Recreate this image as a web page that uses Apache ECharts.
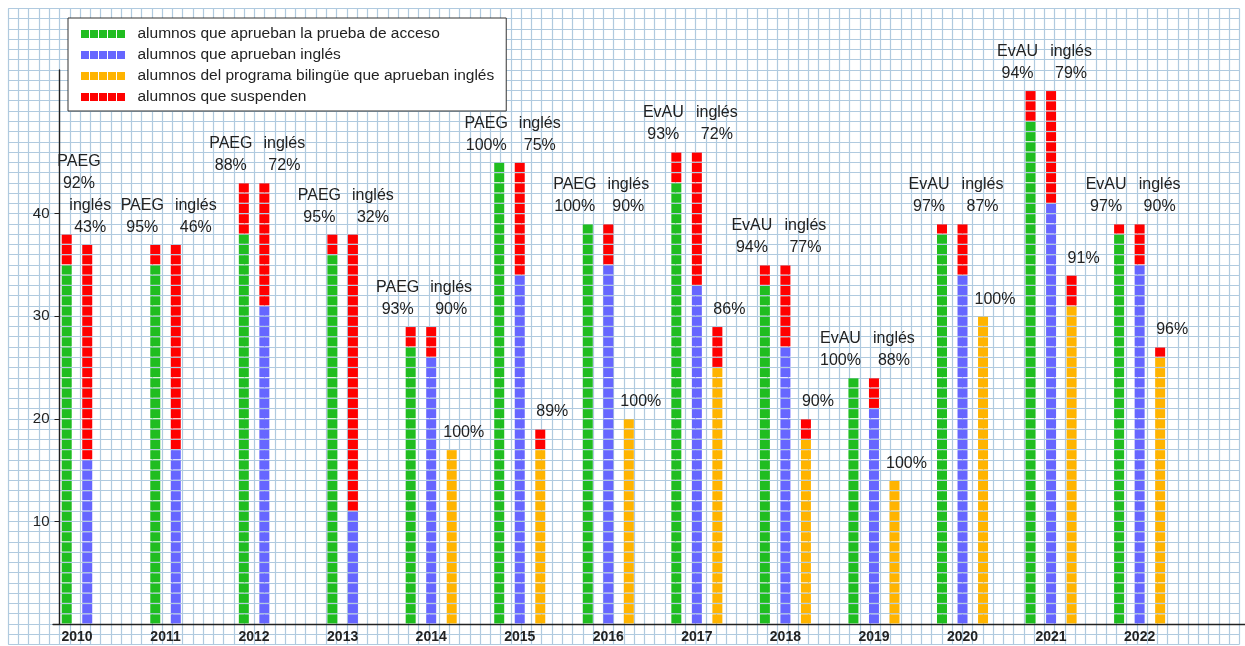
<!DOCTYPE html>
<html>
<head>
<meta charset="utf-8">
<title>PAEG / EvAU</title>
<script src="https://cdn.jsdelivr.net/npm/echarts@6.0.0/dist/echarts.min.js"></script>
<style>
    html, body { margin: 0; padding: 0; background: #fff; }
    #main { width: 1245px; height: 646px; }
</style>
</head>
<body>
<div id="main"></div>
<script>
    // datos: alumnos por año
    var years = ['2010', '2011', '2012', '2013', '2014', '2015', '2016', '2017', '2018', '2019', '2020', '2021', '2022'];
    var examName = ['PAEG', 'PAEG', 'PAEG', 'PAEG', 'PAEG', 'PAEG', 'PAEG', 'EvAU', 'EvAU', 'EvAU', 'EvAU', 'EvAU', 'EvAU'];
    var accessPass = [35, 35, 38, 36, 27, 45, 39, 43, 33, 24, 38, 49, 38];
    var accessFail = [3, 2, 5, 2, 2, 0, 0, 3, 2, 0, 1, 3, 1];
    var accessPct = [92, 95, 88, 95, 93, 100, 100, 93, 94, 100, 97, 94, 97];
    var englishPass = [16, 17, 31, 11, 26, 34, 35, 33, 27, 21, 34, 41, 35];
    var englishFail = [21, 20, 12, 27, 3, 11, 4, 13, 8, 3, 5, 11, 4];
    var englishPct = [43, 46, 72, 32, 90, 75, 90, 72, 77, 88, 87, 79, 90];
    var bilingualPass = [null, null, null, null, 17, 17, 20, 25, 18, 14, 30, 31, 26];
    var bilingualFail = [null, null, null, null, 0, 2, 0, 4, 2, 0, 0, 3, 1];
    var bilingualPct = [null, null, null, null, 100, 89, 100, 86, 90, 100, 100, 91, 96];
    var yTicks = [10, 20, 30, 40];

    var names = [
        'alumnos que aprueban la prueba de acceso',
        'alumnos que aprueban inglés',
        'alumnos del programa bilingüe que aprueban inglés',
        'alumnos que suspenden'
    ];

    var CELL = 10.26;            // lado de un cuadrito (1 alumno)
    var FONT = '"Liberation Sans", Arial, sans-serif';
    var gridColor = '#b0cadf';
    var stackedLabelYear = '2010';   // primer grupo: etiquetas una encima de otra

    function labelFor(slot, i, cx, yTop, n, api) {
        var text, x, yb = yTop - 6;
        if (slot === 0) {
            text = examName[i] + '\n' + accessPct[i] + '%';
            x = cx - 13;
            if (years[i] === stackedLabelYear) {
                var blueTop = api.coord([i, englishPass[i] + englishFail[i]])[1];
                x = cx + CELL + 2;
                yb = blueTop - 6 - 44;
            }
        } else if (slot === 1) {
            text = 'inglés\n' + englishPct[i] + '%';
            x = years[i] === stackedLabelYear ? cx + 3 : cx + 20;
        } else {
            text = bilingualPct[i] + '%';
            x = cx + 12;
        }
        return {
            type: 'text',
            style: {
                text: text, x: x, y: yb,
                align: 'center', verticalAlign: 'bottom',
                fontSize: 16, fontFamily: FONT, lineHeight: 22,
                fill: '#222'
            }
        };
    }

    function makeBars(name, color, slot, pass, fail, isTop) {
        var data = [];
        for (var i = 0; i < years.length; i++) {
            if (pass[i] == null) continue;
            if (isTop) data.push([i, pass[i], pass[i] + fail[i]]);
            else data.push([i, 0, pass[i]]);
        }
        return {
            type: 'custom',
            name: name,
            xAxisIndex: 2,
            yAxisIndex: 2,
            itemStyle: { color: color },
            data: data,
            z: 3,
            renderItem: function (params, api) {
                var i = api.value(0), from = api.value(1), to = api.value(2);
                var n = bilingualPass[i] == null ? 2 : 3;
                var cx = api.coord([i, 0])[0] + (slot - (n - 1) / 2) * 2 * CELL;
                var children = [];
                for (var v = from; v < to; v++) {
                    var y1 = api.coord([i, v + 1])[1];
                    var y0 = api.coord([i, v])[1];
                    children.push({
                        type: 'rect',
                        shape: { x: cx - 5, y: y1 + 0.6, width: 10, height: y0 - y1 - 1.2 },
                        style: { fill: color }
                    });
                }
                if (isTop) children.push(labelFor(slot, i, cx, api.coord([i, to])[1], n, api));
                return { type: 'group', children: children };
            }
        };
    }

    var myChart = echarts.init(document.getElementById('main'));
    myChart.setOption({
        animation: false,
        backgroundColor: '#fff',
        textStyle: { fontFamily: FONT },
        legend: {
            orient: 'vertical',
            left: 68,
            top: 18,
            data: names,
            icon: 'path://M0 0H8V8H0Z M9 0H17V8H9Z M18 0H26V8H18Z M27 0H35V8H27Z M36 0H44V8H36Z',
            itemWidth: 45,
            itemHeight: 8,
            itemGap: 5,
            padding: [8, 12, 6, 13],
            borderColor: '#333',
            borderWidth: 1,
            borderRadius: 0,
            backgroundColor: '#fff',
            selectedMode: false,
            textStyle: { fontSize: 15.5, color: '#222', fontFamily: FONT, lineHeight: 15, padding: [0, 0, 0, 7] }
        },
        grid: [
            // papel cuadriculado
            { left: 8.2, top: 8.4, width: 120 * CELL, height: 62 * CELL },
            // línea del eje x
            { left: 53, right: 0, top: 624 - 54 * CELL, bottom: 22 },
            // barras
            { left: 32.7, width: 13 * 8.631 * CELL, top: 624 - 54 * CELL, bottom: 22 },
            // eje y
            { left: 59.5, width: 10, top: 624 - 54 * CELL, bottom: 22 }
        ],
        xAxis: [
            {
                gridIndex: 0, type: 'value', min: -5, max: 115, interval: 1,
                axisLine: { show: false }, axisTick: { show: false }, axisLabel: { show: false },
                splitLine: { show: true, lineStyle: { color: gridColor, width: 1.2 } }
            },
            {
                gridIndex: 1, type: 'value', min: 0, max: 1,
                axisLine: { show: true, onZero: false, lineStyle: { color: '#222', width: 1.4 } },
                axisTick: { show: false }, axisLabel: { show: false }, splitLine: { show: false }
            },
            {
                gridIndex: 2, type: 'category', data: years,
                axisLine: { show: false }, axisTick: { show: false },
                axisLabel: { interval: 0, margin: 6, fontSize: 14, fontWeight: 'bold', color: '#222' },
                splitLine: { show: false }
            },
            { gridIndex: 3, type: 'value', show: false }
        ],
        yAxis: [
            {
                gridIndex: 0, type: 'value', min: -2, max: 60, interval: 1,
                axisLine: { show: false }, axisTick: { show: false }, axisLabel: { show: false },
                splitLine: { show: true, lineStyle: { color: gridColor, width: 1.2 } }
            },
            { gridIndex: 1, type: 'value', min: 0, max: 54, show: false },
            { gridIndex: 2, type: 'value', min: 0, max: 54, show: false },
            {
                gridIndex: 3, type: 'value', min: 0, max: 54,
                axisLine: { show: true, onZero: false, lineStyle: { color: '#222', width: 1.4 } },
                axisTick: { show: true, length: 5, customValues: yTicks, lineStyle: { color: '#222' } },
                axisLabel: { customValues: yTicks, fontSize: 15, color: '#222', margin: 10 },
                splitLine: { show: false }
            }
        ],
        series: [
            makeBars(names[0], '#20bd20', 0, accessPass, accessFail, false),
            makeBars(names[3], '#ff0000', 0, accessPass, accessFail, true),
            makeBars(names[1], '#6666ff', 1, englishPass, englishFail, false),
            makeBars(names[3], '#ff0000', 1, englishPass, englishFail, true),
            makeBars(names[2], '#ffb400', 2, bilingualPass, bilingualFail, false),
            makeBars(names[3], '#ff0000', 2, bilingualPass, bilingualFail, true)
        ]
    });
</script>
</body>
</html>
